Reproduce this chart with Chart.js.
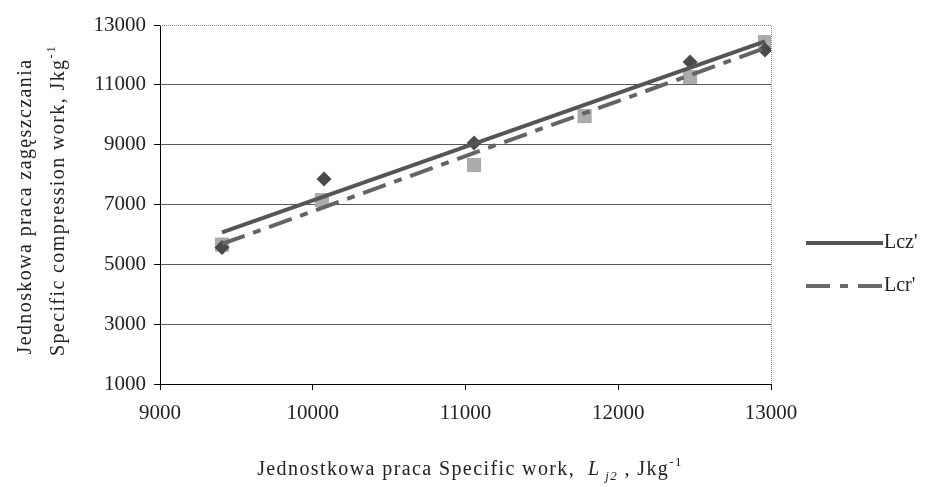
<!DOCTYPE html>
<html>
<head>
<meta charset="utf-8">
<script src="https://cdn.jsdelivr.net/npm/chart.js@4"></script>
<style>
  html, body { margin:0; padding:0; background:#fff; }
  #wrap { width:925px; height:487px; }
</style>
</head>
<body>
<div id="wrap"><canvas id="chart" width="925" height="487"></canvas></div>
<script>
// ===== Data =====
const xTicks = [9000, 10000, 11000, 12000, 13000];
const yTicks = [1000, 3000, 5000, 7000, 9000, 11000, 13000];

// Lcz' points (diamonds)
const lczX = [9406, 10074, 11056, 12470, 12961];
const lczY = [5560, 7850, 9054, 11763, 12164];
// Lcr' points (squares)
const lcrX = [9406, 10060, 11056, 11780, 12470, 12961];
const lcrY = [5660, 7147, 8318, 9957, 11261, 12431];
// trend lines, end points
const lczTrendX = [9406, 12961];
const lczTrendY = [6070, 12450];
const lcrTrendX = [9406, 12961];
const lcrTrendY = [5680, 12230];

const SERIF = '"Liberation Serif", "DejaVu Serif", serif';
const toPts = (xs, ys) => xs.map((x, i) => ({ x, y: ys[i] }));

// ===== Helpers: text runs (for sub/superscripts) =====
function runsWidth(ctx, runs){
  let w = 0;
  runs.forEach(r => { ctx.font = r.font; w += ctx.measureText(r.text).width; });
  return w;
}
function drawRuns(ctx, runs, cx, cy){
  let x = cx - runsWidth(ctx, runs) / 2;
  ctx.textAlign = 'left';
  ctx.textBaseline = 'alphabetic';
  runs.forEach(r => {
    ctx.font = r.font;
    ctx.fillText(r.text, x, cy + (r.dy || 0));
    x += ctx.measureText(r.text).width;
  });
}

// ===== Plugin: titles, frame, legend =====
const extras = {
  id: 'extras',
  afterDraw(chart){
    const ctx = chart.ctx;
    const a = chart.chartArea;
    ctx.save();

    // dotted frame top/right
    ctx.strokeStyle = '#8a8a8a';
    ctx.lineWidth = 1;
    ctx.setLineDash([1, 1]);
    ctx.beginPath();
    ctx.moveTo(a.left, a.top + 0.5); ctx.lineTo(a.right + 0.5, a.top + 0.5);
    ctx.lineTo(a.right + 0.5, a.bottom);
    ctx.stroke();
    ctx.setLineDash([]);

    ctx.fillStyle = '#222';
    ctx.letterSpacing = '1.4px';
    const f = '20px ' + SERIF, fs = '13px ' + SERIF, fi = 'italic 20px ' + SERIF, fis = 'italic 13px ' + SERIF;

    // x title
    drawRuns(ctx, [
      { text: 'Jednostkowa praca Specific work,  ', font: f },
      { text: 'L', font: fi },
      { text: ' j2', font: fis, dy: 5 },
      { text: ' , Jkg', font: f },
      { text: '-1', font: fs, dy: -9 }
    ], 470, 475);

    // y title (rotated, two lines)
    const cy = (a.top + a.bottom) / 2;
    ctx.save();
    ctx.translate(31, cy + 2);
    ctx.rotate(-Math.PI / 2);
    drawRuns(ctx, [{ text: 'Jednoskowa praca zagęszczania', font: f }], 0, 0);
    ctx.restore();
    ctx.save();
    ctx.translate(64, cy - 4);
    ctx.rotate(-Math.PI / 2);
    drawRuns(ctx, [
      { text: 'Specific compression work, Jkg', font: f },
      { text: '-1', font: fs, dy: -9 }
    ], 0, 0);
    ctx.restore();
    ctx.letterSpacing = '0px';

    // legend
    const items = [
      { label: "Lcz'", y: 243, color: '#555', dash: [] },
      { label: "Lcr'", y: 286, color: '#6a6a6a', dash: [24, 10, 8, 10] }
    ];
    items.forEach(it => {
      ctx.strokeStyle = it.color;
      ctx.lineWidth = 4;
      ctx.setLineDash(it.dash);
      ctx.beginPath();
      ctx.moveTo(806, it.y); ctx.lineTo(883, it.y);
      ctx.stroke();
      ctx.setLineDash([]);
      ctx.fillStyle = '#222';
      ctx.font = '20px ' + SERIF;
      ctx.textAlign = 'left';
      ctx.textBaseline = 'middle';
      ctx.fillText(it.label, 884, it.y);
    });
    ctx.restore();
  }
};

// ===== Chart =====
new Chart(document.getElementById('chart'), {
  type: 'scatter',
  data: {
    datasets: [
      { label: "Lcz' trend", type: 'line', data: toPts(lczTrendX, lczTrendY), borderColor: '#555',
        borderWidth: 4, pointRadius: 0, fill: false, order: 0 },
      { label: "Lcr' trend", type: 'line', data: toPts(lcrTrendX, lcrTrendY), borderColor: '#646464',
        borderWidth: 4, borderDash: [24, 9, 8, 9], pointRadius: 0, fill: false, order: 0 },
      { label: "Lcr'", data: toPts(lcrX, lcrY), pointStyle: 'rect', pointRadius: 10,
        backgroundColor: '#ababab', borderColor: '#ababab', borderWidth: 0, order: 2 },
      { label: "Lcz'", data: toPts(lczX, lczY), pointStyle: 'rectRot', pointRadius: 7.5,
        backgroundColor: '#4a4a4a', borderColor: '#4a4a4a', borderWidth: 0, order: 1 }
    ]
  },
  options: {
    responsive: false,
    animation: false,
    layout: { padding: { left: 0, right: 154, top: 25, bottom: 0 } },
    plugins: { legend: { display: false }, tooltip: { enabled: false } },
    scales: {
      x: {
        type: 'linear', min: xTicks[0], max: xTicks[xTicks.length - 1],
        afterFit: s => { s.height = 103; },
        afterBuildTicks: s => { s.ticks = xTicks.map(v => ({ value: v })); },
        grid: { drawOnChartArea: false, drawTicks: true, tickLength: 6, tickColor: '#000' },
        border: { color: '#000', width: 1 },
        ticks: { padding: 11, color: '#222', font: { family: SERIF, size: 21 }, callback: v => String(v) }
      },
      y: {
        type: 'linear', min: yTicks[0], max: yTicks[yTicks.length - 1],
        afterFit: s => { s.width = 160; },
        afterBuildTicks: s => { s.ticks = yTicks.map(v => ({ value: v })); },
        grid: {
          color: c => (c.tick && c.tick.value === 13000) ? 'rgba(0,0,0,0)' : '#5a5a5a',
          lineWidth: 1, tickLength: 6, tickColor: '#000'
        },
        border: { color: '#000', width: 1 },
        ticks: { padding: 8, color: '#222', font: { family: SERIF, size: 21 }, callback: v => String(v) }
      }
    }
  },
  plugins: [extras]
});
</script>
</body>
</html>
